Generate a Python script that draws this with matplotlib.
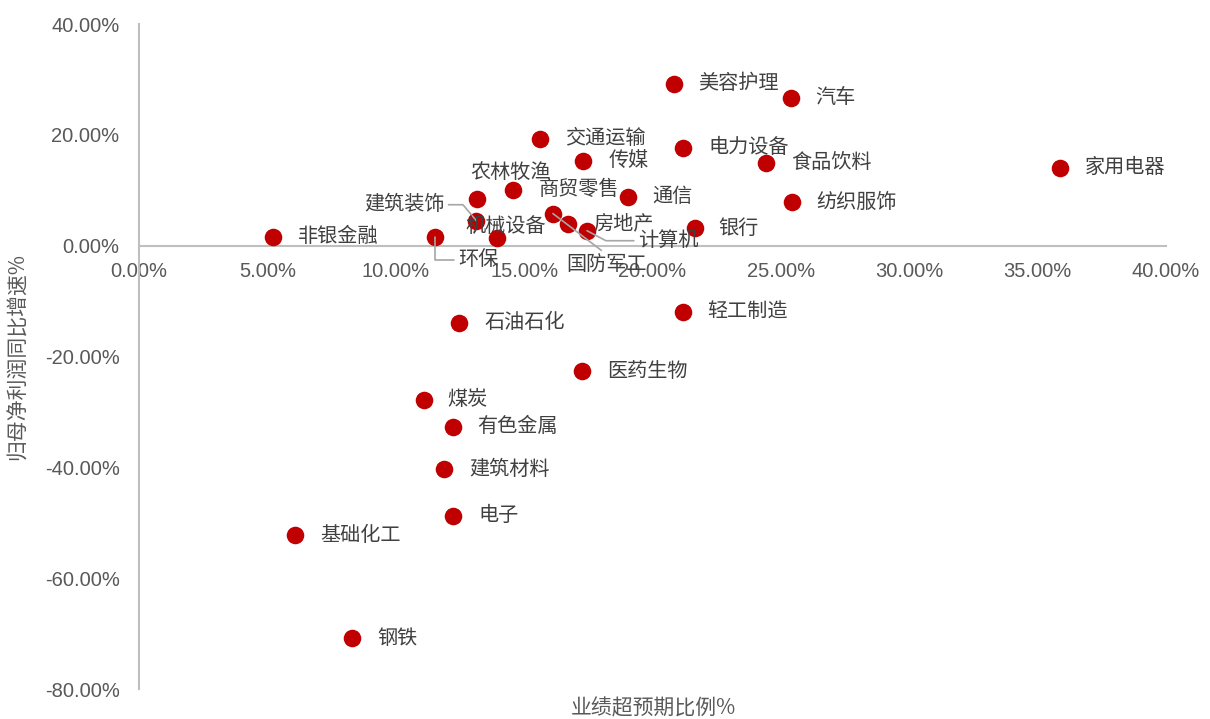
import matplotlib
matplotlib.use("Agg")
import matplotlib.pyplot as plt
from matplotlib.ticker import FuncFormatter

plt.rcParams['font.family'] = ['Liberation Sans', 'Noto Sans CJK SC', 'DejaVu Sans']

# ---- data ----
industries = ["美容护理", "汽车", "交通运输", "电力设备", "食品饮料", "家用电器", "传媒",
              "通信", "纺织服饰", "银行", "非银金融", "环保", "石油石化", "轻工制造",
              "医药生物", "煤炭", "有色金属", "建筑材料", "电子", "基础化工", "钢铁",
              "农林牧渔", "建筑装饰", "商贸零售", "机械设备", "国防军工", "房地产", "计算机"]
beat_ratio = [20.82, 25.38, 15.63, 21.20, 24.44, 35.87, 17.31,
              19.03, 25.42, 21.64, 5.22, 11.54, 12.48, 21.17,
              17.27, 11.11, 12.24, 11.89, 12.24, 6.08, 8.30,
              13.18, 13.14, 14.58, 13.95, 16.12, 16.71, 17.45]
profit_growth = [29.2, 26.7, 19.3, 17.7, 15.0, 14.1, 15.3,
                 8.8, 7.8, 3.2, 1.6, 1.6, -13.9, -11.9,
                 -22.7, -27.8, -32.7, -40.3, -48.7, -52.3, -70.8,
                 8.5, 4.5, 10.1, 1.4, 5.8, 4.0, 2.7]
x_ticks = [0, 5, 10, 15, 20, 25, 30, 35, 40]
y_ticks = [-80, -60, -40, -20, 0, 20, 40]

# ---- label placement (pixel offsets, style only) ----
default_off = (25, 0)
label_off = {
    "煤炭": (23, 0), "有色金属": (24, 0), "银行": (24, 0),
    "农林牧渔": (-7, 26), "机械设备": (-32, 11),
}
leader = {
    # name: (offset, ha, relpos, connectionstyle)
    "环保": ((23, -23), "left", (0, 0.5), "angle,angleA=0,angleB=90,rad=0"),
    "建筑装饰": ((-32, 16), "right", (1, 0.5), "angle,angleA=0,angleB=130,rad=0"),
    "国防军工": ((13, -51), "left", (0.5, 1.0), "arc3,rad=0"),
    "计算机": ((51, -10), "left", (0, 0.5), "angle,angleA=0,angleB=152,rad=0"),
}

W, H = 1210, 719
fig = plt.figure(figsize=(W / 100, H / 100), dpi=100)
ax = fig.add_axes([139 / W, 1 - 689 / H, (1166 - 139) / W, (689 - 24) / H])

ax.scatter(beat_ratio, profit_growth, s=160, color="#C00000", zorder=3, linewidths=0)

label_color = "#404040"
cjk = ['Noto Sans CJK SC', 'DejaVu Sans']
lab_fs = 14.5
for name, xv, yv in zip(industries, beat_ratio, profit_growth):
    if name in leader:
        off, ha, rp, cs = leader[name]
        ax.annotate(name, xy=(xv, yv), xytext=off, textcoords="offset pixels",
                    ha=ha, va="center", fontsize=lab_fs, color=label_color, family=cjk,
                    arrowprops=dict(arrowstyle="-", color="#A6A6A6", lw=1.2,
                                    connectionstyle=cs, relpos=rp,
                                    shrinkA=1, shrinkB=0), zorder=4)
    else:
        off = label_off.get(name, default_off)
        ax.annotate(name, xy=(xv, yv), xytext=off, textcoords="offset pixels",
                    ha="left", va="center", fontsize=lab_fs, color=label_color, family=cjk,
                    zorder=4)

ax.set_xlim(0, 40)
ax.set_ylim(-80, 40)
ax.set_xticks(x_ticks)
ax.set_yticks(y_ticks)
fmt = FuncFormatter(lambda v, p: f"{v:.2f}%")
ax.xaxis.set_major_formatter(fmt)
ax.yaxis.set_major_formatter(fmt)

for s in ("top", "right"):
    ax.spines[s].set_visible(False)
ax.spines["bottom"].set_position(("data", 0))
for s in ("left", "bottom"):
    ax.spines[s].set_color("#BFBFBF")
    ax.spines[s].set_linewidth(1.5)
ax.tick_params(axis="both", length=0, labelsize=14.5, labelcolor="#595959")
ax.tick_params(axis="y", pad=14)
ax.tick_params(axis="x", pad=12)

fig.text(18 / W, 1 - 357 / H, "归母净利润同比增速%", rotation=90, ha="center", va="center",
         fontsize=15, color="#595959", family=cjk)
fig.text(653 / W, 1 - 708 / H, "业绩超预期比例%", ha="center", va="center",
         fontsize=15, color="#595959", family=cjk)

fig.savefig("out.png", dpi=100)
